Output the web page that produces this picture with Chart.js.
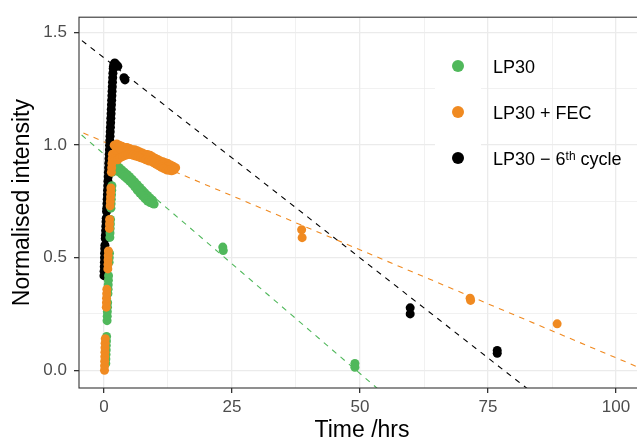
<!DOCTYPE html>
<html>
<head>
<meta charset="utf-8">
<script src="https://cdn.jsdelivr.net/npm/chart.js@4"></script>
<style>
  html, body { margin: 0; padding: 0; background: #fff; overflow: hidden; }
  #wrap { width: 637px; height: 441px; overflow: hidden; }
  #wrap canvas { display: block; }
</style>
</head>
<body>
<div id="wrap"><canvas id="decayChart" width="650" height="441"></canvas></div>
<script>
// LP30: first hours, then the decay band and the late measurements
var lp30Time = [0.35, 0.37, 0.4, 0.43, 0.45, 0.48, 0.51, 0.6, 0.63, 0.65, 0.68, 0.71, 0.77, 0.8, 0.83, 0.86, 0.89,
  1.0, 1.03, 1.07, 1.15, 1.18, 1.21, 1.25, 1.28, 1.35, 1.39, 1.43, 1.47, 1.51, 1.55, 1.65, 1.7, 1.75, 1.8,
  2.0, 2.5, 3.0, 3.5, 4.0, 4.5, 5.0, 5.5, 6.0, 6.5, 7.0, 7.5, 8.0, 8.5, 9.0, 9.5,
  3.0, 3.5, 4.0, 4.5, 5.0, 5.5, 6.0, 6.5, 7.0, 7.5, 8.0, 8.5, 9.0, 9.5, 9.8,
  23.2, 23.3, 49.0, 49.0];
var lp30Int = [0.03, 0.05, 0.07, 0.09, 0.11, 0.13, 0.15, 0.22, 0.24, 0.26, 0.28, 0.30, 0.34, 0.36, 0.38, 0.40, 0.42,
  0.48, 0.50, 0.52, 0.59, 0.61, 0.63, 0.65, 0.67, 0.72, 0.74, 0.76, 0.78, 0.80, 0.82, 0.88, 0.90, 0.92, 0.94,
  0.92, 0.91, 0.90, 0.89, 0.88, 0.87, 0.86, 0.848, 0.836, 0.824, 0.812, 0.80, 0.788, 0.776, 0.765, 0.755,
  0.88, 0.87, 0.86, 0.85, 0.84, 0.828, 0.815, 0.80, 0.787, 0.775, 0.763, 0.752, 0.745, 0.74, 0.738,
  0.547, 0.532, 0.03, 0.013];

// LP30 + FEC
var fecTime = [0.1, 0.12, 0.14, 0.16, 0.18, 0.2, 0.22, 0.25, 0.45, 0.48, 0.5, 0.53, 0.56, 0.75, 0.78, 0.8, 0.83, 0.86,
  1.05, 1.08, 1.1, 1.2, 1.24, 1.28, 1.32, 1.35, 1.45, 1.5, 1.55, 1.6, 1.65,
  2.0, 2.5, 3.0, 3.5, 4.0, 4.5, 5.0, 5.5, 6.0, 6.5, 7.0, 7.5, 8.0, 8.5, 9.0, 9.5, 10.0, 10.5, 11.0, 11.5, 12.0, 12.5, 13.0, 13.5, 14.0,
  2.4, 3.4, 4.4, 5.4, 6.4, 7.4, 8.4, 9.4, 10.4, 11.4, 12.4, 13.4,
  2.2, 2.7, 3.2, 3.7, 4.2, 4.7, 5.2, 5.7, 6.2, 6.7, 7.2, 7.7, 8.2, 8.7, 9.2, 9.7, 10.2, 10.7, 11.2, 11.7, 12.2, 12.7, 13.2, 13.7,
  38.6, 38.7, 71.5, 71.6, 88.5];
var fecInt = [0.0, 0.02, 0.04, 0.06, 0.08, 0.10, 0.12, 0.14, 0.28, 0.30, 0.32, 0.34, 0.36, 0.45, 0.47, 0.49, 0.51, 0.53,
  0.63, 0.65, 0.67, 0.73, 0.75, 0.77, 0.79, 0.81, 0.88, 0.90, 0.92, 0.94, 0.96,
  1.00, 1.005, 1.0, 0.995, 0.99, 0.99, 0.985, 0.98, 0.98, 0.975, 0.97, 0.965, 0.96, 0.958, 0.955, 0.948, 0.942, 0.936, 0.93, 0.926, 0.922, 0.918, 0.912, 0.906, 0.90,
  0.975, 0.975, 0.972, 0.968, 0.962, 0.955, 0.945, 0.935, 0.925, 0.915, 0.905, 0.895,
  0.94, 0.935, 0.945, 0.95, 0.955, 0.958, 0.958, 0.955, 0.952, 0.948, 0.944, 0.94, 0.935, 0.93, 0.928, 0.922, 0.915, 0.908, 0.902, 0.896, 0.89, 0.888, 0.886, 0.89,
  0.624, 0.589, 0.32, 0.31, 0.206];

// LP30 - 6th cycle
var cycTime = [0.0, 0.02, 0.05, 0.08, 0.1, 0.12, 0.15, 0.18, 0.25, 0.28, 0.32, 0.36, 0.4, 0.44,
  0.5, 0.54, 0.58, 0.62, 0.66, 0.7, 0.74, 0.78, 0.82, 0.86, 0.9, 0.94, 0.98, 1.02, 1.06, 1.1, 1.14, 1.18,
  1.22, 1.26, 1.3, 1.34, 1.38, 1.42, 1.46, 1.5, 1.54, 1.58, 1.62, 1.66, 1.7, 1.74, 1.8, 1.85, 1.95, 2.1, 2.3, 2.5, 2.7,
  3.9, 4.1,
  59.8, 59.8, 76.8, 76.8];
var cycInt = [0.42, 0.44, 0.46, 0.48, 0.50, 0.52, 0.54, 0.555, 0.585, 0.60, 0.62, 0.64, 0.66, 0.675,
  0.705, 0.72, 0.74, 0.76, 0.78, 0.80, 0.82, 0.84, 0.86, 0.88, 0.90, 0.92, 0.94, 0.96, 0.98, 1.00, 1.02, 1.04,
  1.06, 1.08, 1.10, 1.12, 1.14, 1.16, 1.18, 1.20, 1.22, 1.24, 1.26, 1.28, 1.30, 1.32, 1.34, 1.35, 1.36, 1.365, 1.36, 1.355, 1.35,
  1.30, 1.29,
  0.277, 0.25, 0.088, 0.075];

// linear fits, given by their ends
var fitTime = [-6, 110];
var lp30Fit = [1.077, -1.185];
var fecFit = [1.0726, -0.041];
var cycFit = [1.4947, -0.5677];

var seriesNames = ['LP30', 'LP30 + FEC', 'LP30 \u2212 6th cycle'];
var seriesColors = ['#50B85B', '#F08A21', '#000000'];

var FONT = "'Liberation Sans', Arial, sans-serif";

function pts(xs, ys) {
  return xs.map(function (x, i) { return { x: x, y: ys[i] }; });
}

function isMajorX(v) { return Math.abs(v % 25) < 1e-9; }
function isMajorY(v) { return Math.abs(v * 2 - Math.round(v * 2)) < 1e-9; }

// panel border and the legend drawn inside the panel
var panelExtras = {
  id: 'panelExtras',
  afterDraw: function (chart) {
    var ctx = chart.ctx, a = chart.chartArea;
    ctx.save();
    ctx.strokeStyle = '#333333';
    ctx.lineWidth = 1.1;
    ctx.strokeRect(a.left, a.top, a.right - a.left, a.bottom - a.top);

    var keyX = 435, keyW = 46, rowH = 46, top = 43;
    ctx.fillStyle = '#ffffff';
    ctx.fillRect(keyX, top, keyW, rowH * seriesNames.length);
    seriesNames.forEach(function (name, i) {
      var cy = top + rowH * i + rowH / 2;
      ctx.fillStyle = seriesColors[i];
      ctx.beginPath();
      ctx.arc(keyX + keyW / 2, cy, 6, 0, Math.PI * 2);
      ctx.fill();

      ctx.fillStyle = '#000000';
      ctx.textBaseline = 'alphabetic';
      ctx.textAlign = 'left';
      var x = 493, base = cy + 7.4;
      var m = name.match(/^(.*\d)(th)(.*)$/);
      ctx.font = '18px ' + FONT;
      if (m) {
        ctx.fillText(m[1], x, base);
        x += ctx.measureText(m[1]).width;
        ctx.font = '12px ' + FONT;
        ctx.fillText(m[2], x, base - 5);
        x += ctx.measureText(m[2]).width;
        ctx.font = '18px ' + FONT;
        ctx.fillText(m[3], x, base);
      } else {
        ctx.fillText(name, x, base);
      }
    });
    ctx.restore();
  }
};

var fitStyle = { showLine: true, pointRadius: 0, borderWidth: 1.1, borderDash: [5.5, 5.5], fill: false, order: 10 };

var decayChart = new Chart(document.getElementById('decayChart'), {
  type: 'scatter',
  data: {
    datasets: [
      Object.assign({ data: pts(fitTime, lp30Fit), borderColor: seriesColors[0] }, fitStyle),
      Object.assign({ data: pts(fitTime, fecFit), borderColor: seriesColors[1] }, fitStyle),
      Object.assign({ data: pts(fitTime, cycFit), borderColor: seriesColors[2] }, fitStyle),
      { label: seriesNames[2], data: pts(cycTime, cycInt), backgroundColor: seriesColors[2], pointRadius: 4.5, borderWidth: 0, order: 3 },
      { label: seriesNames[0], data: pts(lp30Time, lp30Int), backgroundColor: seriesColors[0], pointRadius: 4.5, borderWidth: 0, order: 2 },
      { label: seriesNames[1], data: pts(fecTime, fecInt), backgroundColor: seriesColors[1], pointRadius: 4.5, borderWidth: 0, order: 1 }
    ]
  },
  options: {
    responsive: false,
    animation: false,
    devicePixelRatio: 1,
    layout: { padding: { left: 0, top: 13, right: 5, bottom: 0 } },
    plugins: { legend: { display: false }, tooltip: { enabled: false } },
    scales: {
      x: {
        type: 'linear',
        min: -4.88,
        max: 105.66,
        afterFit: function (s) { s.height = 53; },
        border: { display: false },
        grid: {
          color: '#EBEBEB',
          lineWidth: function (c) { return isMajorX(c.tick.value) ? 1.3 : 0.7; },
          tickLength: 5,
          tickColor: function (c) { return isMajorX(c.tick.value) ? '#333333' : 'rgba(0,0,0,0)'; }
        },
        ticks: {
          stepSize: 12.5,
          includeBounds: false,
          autoSkip: false,
          maxRotation: 0,
          padding: 4,
          color: '#4D4D4D',
          font: { family: FONT, size: 17 },
          callback: function (v) { return isMajorX(v) ? String(v) : ''; }
        },
        title: {
          display: true,
          text: 'Time /hrs',
          color: '#000000',
          font: { family: FONT, size: 23, lineHeight: 1 },
          padding: { top: 0, bottom: -1 }
        }
      },
      y: {
        type: 'linear',
        min: -0.0791,
        max: 1.5685,
        afterFit: function (s) { s.width = 79; },
        border: { display: false },
        grid: {
          color: '#EBEBEB',
          lineWidth: function (c) { return isMajorY(c.tick.value) ? 1.3 : 0.7; },
          tickLength: 5,
          tickColor: function (c) { return isMajorY(c.tick.value) ? '#333333' : 'rgba(0,0,0,0)'; }
        },
        ticks: {
          stepSize: 0.25,
          includeBounds: false,
          autoSkip: false,
          padding: 7,
          color: '#4D4D4D',
          font: { family: FONT, size: 17 },
          callback: function (v) { return isMajorY(v) ? v.toFixed(1) : ''; }
        },
        title: {
          display: true,
          text: 'Normalised intensity',
          color: '#000000',
          font: { family: FONT, size: 23, lineHeight: 1 },
          padding: { top: 11, bottom: 0 }
        }
      }
    }
  },
  plugins: [panelExtras]
});
</script>
</body>
</html>
